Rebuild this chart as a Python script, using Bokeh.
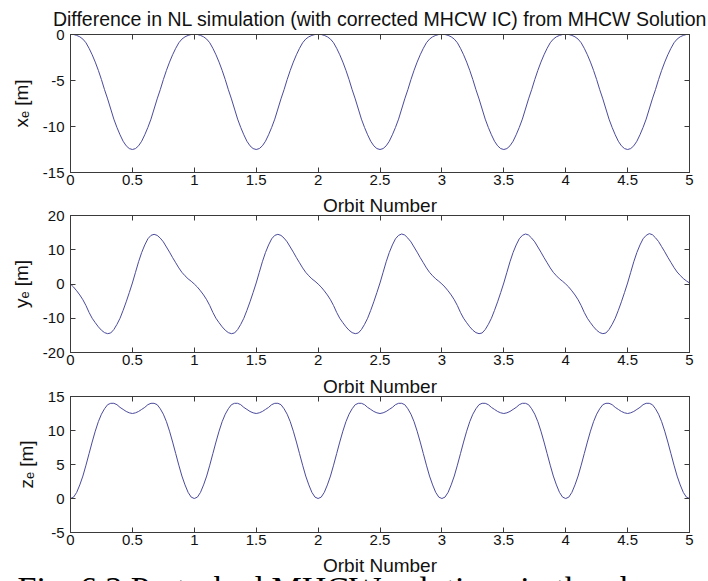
from bokeh.plotting import figure
from bokeh.models import Range1d, FixedTicker, LinearAxis, Label
from bokeh.layouts import column
from bokeh.embed import file_html
from bokeh.resources import INLINE

# ---------------- data ----------------
# one sample every 0.025 orbit
orbit = [
    0.000, 0.025, 0.050, 0.075, 0.100, 0.125, 0.150, 0.175, 0.200, 0.225,
    0.250, 0.275, 0.300, 0.325, 0.350, 0.375, 0.400, 0.425, 0.450, 0.475,
    0.500, 0.525, 0.550, 0.575, 0.600, 0.625, 0.650, 0.675, 0.700, 0.725,
    0.750, 0.775, 0.800, 0.825, 0.850, 0.875, 0.900, 0.925, 0.950, 0.975,
    1.000, 1.025, 1.050, 1.075, 1.100, 1.125, 1.150, 1.175, 1.200, 1.225,
    1.250, 1.275, 1.300, 1.325, 1.350, 1.375, 1.400, 1.425, 1.450, 1.475,
    1.500, 1.525, 1.550, 1.575, 1.600, 1.625, 1.650, 1.675, 1.700, 1.725,
    1.750, 1.775, 1.800, 1.825, 1.850, 1.875, 1.900, 1.925, 1.950, 1.975,
    2.000, 2.025, 2.050, 2.075, 2.100, 2.125, 2.150, 2.175, 2.200, 2.225,
    2.250, 2.275, 2.300, 2.325, 2.350, 2.375, 2.400, 2.425, 2.450, 2.475,
    2.500, 2.525, 2.550, 2.575, 2.600, 2.625, 2.650, 2.675, 2.700, 2.725,
    2.750, 2.775, 2.800, 2.825, 2.850, 2.875, 2.900, 2.925, 2.950, 2.975,
    3.000, 3.025, 3.050, 3.075, 3.100, 3.125, 3.150, 3.175, 3.200, 3.225,
    3.250, 3.275, 3.300, 3.325, 3.350, 3.375, 3.400, 3.425, 3.450, 3.475,
    3.500, 3.525, 3.550, 3.575, 3.600, 3.625, 3.650, 3.675, 3.700, 3.725,
    3.750, 3.775, 3.800, 3.825, 3.850, 3.875, 3.900, 3.925, 3.950, 3.975,
    4.000, 4.025, 4.050, 4.075, 4.100, 4.125, 4.150, 4.175, 4.200, 4.225,
    4.250, 4.275, 4.300, 4.325, 4.350, 4.375, 4.400, 4.425, 4.450, 4.475,
    4.500, 4.525, 4.550, 4.575, 4.600, 4.625, 4.650, 4.675, 4.700, 4.725,
    4.750, 4.775, 4.800, 4.825, 4.850, 4.875, 4.900, 4.925, 4.950, 4.975,
    5.000,
]

x_e = [
    0.0, 0.0, -0.1, -0.25, -0.5, -0.9, -1.5, -2.2, -3.0, -3.9,
    -4.9, -6.0, -7.0, -8.1, -9.2, -10.1, -10.9, -11.6, -12.1, -12.4,
    -12.5, -12.4, -12.1, -11.6, -10.9, -10.1, -9.2, -8.1, -7.0, -6.0,
    -4.9, -3.9, -3.0, -2.2, -1.5, -0.9, -0.5, -0.25, -0.1, 0.0,
    0.0, 0.0, -0.1, -0.25, -0.5, -0.9, -1.5, -2.2, -3.0, -3.9,
    -4.9, -6.0, -7.0, -8.1, -9.2, -10.1, -10.9, -11.6, -12.1, -12.4,
    -12.5, -12.4, -12.1, -11.6, -10.9, -10.1, -9.2, -8.1, -7.0, -6.0,
    -4.9, -3.9, -3.0, -2.2, -1.5, -0.9, -0.5, -0.25, -0.1, 0.0,
    0.0, 0.0, -0.1, -0.25, -0.5, -0.9, -1.5, -2.2, -3.0, -3.9,
    -4.9, -6.0, -7.0, -8.1, -9.2, -10.1, -10.9, -11.6, -12.1, -12.4,
    -12.5, -12.4, -12.1, -11.6, -10.9, -10.1, -9.2, -8.1, -7.0, -6.0,
    -4.9, -3.9, -3.0, -2.2, -1.5, -0.9, -0.5, -0.25, -0.1, 0.0,
    0.0, 0.0, -0.1, -0.25, -0.5, -0.9, -1.5, -2.2, -3.0, -3.9,
    -4.9, -6.0, -7.0, -8.1, -9.2, -10.1, -10.9, -11.6, -12.1, -12.4,
    -12.5, -12.4, -12.1, -11.6, -10.9, -10.1, -9.2, -8.1, -7.0, -6.0,
    -4.9, -3.9, -3.0, -2.2, -1.5, -0.9, -0.5, -0.25, -0.1, 0.0,
    0.0, 0.0, -0.1, -0.25, -0.5, -0.9, -1.5, -2.2, -3.0, -3.9,
    -4.9, -6.0, -7.0, -8.1, -9.2, -10.1, -10.9, -11.6, -12.1, -12.4,
    -12.5, -12.4, -12.1, -11.6, -10.9, -10.1, -9.2, -8.1, -7.0, -6.0,
    -4.9, -3.9, -3.0, -2.2, -1.5, -0.9, -0.5, -0.25, -0.1, 0.0,
    0.0,
]

y_e = [
    0.0, -0.9, -2.0, -3.2, -4.6, -6.3, -8.3, -10.0, -11.3, -12.5,
    -13.5, -14.2, -14.5, -14.3, -13.3, -11.8, -10.0, -7.7, -5.2, -2.5,
    0.3, 3.4, 6.5, 9.2, 11.4, 13.2, 14.2, 14.5, 14.2, 13.4,
    12.3, 10.8, 9.3, 7.7, 6.2, 4.7, 3.4, 2.4, 1.5, 0.8,
    0.0, -0.9, -2.0, -3.2, -4.6, -6.3, -8.3, -10.0, -11.3, -12.5,
    -13.5, -14.2, -14.5, -14.3, -13.3, -11.8, -10.0, -7.7, -5.2, -2.5,
    0.3, 3.4, 6.5, 9.2, 11.4, 13.2, 14.2, 14.5, 14.2, 13.4,
    12.3, 10.8, 9.3, 7.7, 6.2, 4.7, 3.4, 2.4, 1.5, 0.8,
    0.0, -0.9, -2.0, -3.2, -4.6, -6.3, -8.3, -10.0, -11.3, -12.5,
    -13.5, -14.2, -14.5, -14.3, -13.3, -11.8, -10.0, -7.7, -5.2, -2.5,
    0.3, 3.4, 6.5, 9.2, 11.4, 13.2, 14.2, 14.6, 14.3, 13.4,
    12.3, 10.8, 9.3, 7.7, 6.2, 4.7, 3.4, 2.4, 1.5, 0.8,
    0.0, -0.9, -2.0, -3.2, -4.6, -6.3, -8.3, -10.0, -11.3, -12.5,
    -13.5, -14.2, -14.5, -14.3, -13.3, -11.8, -10.0, -7.7, -5.2, -2.5,
    0.3, 3.4, 6.5, 9.2, 11.4, 13.2, 14.2, 14.6, 14.3, 13.4,
    12.3, 10.8, 9.3, 7.7, 6.2, 4.7, 3.4, 2.4, 1.5, 0.8,
    0.0, -0.9, -2.0, -3.2, -4.6, -6.3, -8.3, -10.0, -11.3, -12.5,
    -13.5, -14.2, -14.5, -14.3, -13.3, -11.8, -10.0, -7.7, -5.2, -2.5,
    0.3, 3.4, 6.5, 9.2, 11.4, 13.2, 14.2, 14.7, 14.4, 13.5,
    12.4, 10.9, 9.4, 7.8, 6.3, 4.8, 3.5, 2.5, 1.6, 0.9,
    0.3,
]

z_e = [
    0.0, 0.2, 0.9, 2.0, 3.3, 4.9, 6.6, 8.3, 9.9, 11.3,
    12.4, 13.2, 13.8, 14.0, 14.0, 13.8, 13.4, 13.1, 12.8, 12.6,
    12.5, 12.6, 12.8, 13.1, 13.4, 13.8, 14.0, 14.0, 13.8, 13.2,
    12.4, 11.3, 9.9, 8.3, 6.6, 4.9, 3.3, 2.0, 0.9, 0.2,
    0.0, 0.2, 0.9, 2.0, 3.3, 4.9, 6.6, 8.3, 9.9, 11.3,
    12.4, 13.2, 13.8, 14.0, 14.0, 13.8, 13.4, 13.1, 12.8, 12.6,
    12.5, 12.6, 12.8, 13.1, 13.4, 13.8, 14.0, 14.0, 13.8, 13.2,
    12.4, 11.3, 9.9, 8.3, 6.6, 4.9, 3.3, 2.0, 0.9, 0.2,
    0.0, 0.2, 0.9, 2.0, 3.3, 4.9, 6.6, 8.3, 9.9, 11.3,
    12.4, 13.2, 13.8, 14.0, 14.0, 13.8, 13.4, 13.1, 12.8, 12.6,
    12.5, 12.6, 12.8, 13.1, 13.4, 13.8, 14.0, 14.0, 13.8, 13.2,
    12.4, 11.3, 9.9, 8.3, 6.6, 4.9, 3.3, 2.0, 0.9, 0.2,
    0.0, 0.2, 0.9, 2.0, 3.3, 4.9, 6.6, 8.3, 9.9, 11.3,
    12.4, 13.2, 13.8, 14.0, 14.0, 13.8, 13.4, 13.1, 12.8, 12.6,
    12.5, 12.6, 12.8, 13.1, 13.4, 13.8, 14.0, 14.0, 13.8, 13.2,
    12.4, 11.3, 9.9, 8.3, 6.6, 4.9, 3.3, 2.0, 0.9, 0.2,
    0.0, 0.2, 0.9, 2.0, 3.3, 4.9, 6.6, 8.3, 9.9, 11.3,
    12.4, 13.2, 13.8, 14.0, 14.0, 13.8, 13.4, 13.1, 12.8, 12.6,
    12.5, 12.6, 12.8, 13.1, 13.4, 13.8, 14.0, 14.0, 13.8, 13.2,
    12.4, 11.3, 9.9, 8.3, 6.6, 4.9, 3.3, 2.0, 0.9, 0.2,
    0.0,
]

x_ticks = [0, 0.5, 1, 1.5, 2, 2.5, 3, 3.5, 4, 4.5, 5]
x_tick_labels = ["0", "0.5", "1", "1.5", "2", "2.5", "3", "3.5", "4", "4.5", "5"]

xe_ticks = [-15, -10, -5, 0]
xe_tick_labels = ["-15", "-10", "-5", "0"]
ye_ticks = [-20, -10, 0, 10, 20]
ye_tick_labels = ["-20", "-10", "0", "10", "20"]
ze_ticks = [-5, 0, 5, 10, 15]
ze_tick_labels = ["-5", "0", "5", "10", "15"]

title_text = "Difference in NL simulation (with corrected MHCW IC) from MHCW Solution"
x_label = "Orbit Number"
caption = "Fig. 6.3 Perturbed MHCW solutions in the absence"

# ---------------- styling ----------------
SANS = "Liberation Sans"
AXIS_COLOR = "#3a3a3a"
TEXT_COLOR = "#111111"
LINE_COLOR = "#4a4a9c"


def style_axis(ax, ticks, labels, show_labels=True):
    ax.ticker = FixedTicker(ticks=ticks)
    ax.major_label_overrides = {t: l for t, l in zip(ticks, labels)}
    ax.axis_line_color = AXIS_COLOR
    ax.major_tick_line_color = AXIS_COLOR
    ax.major_tick_in = 5
    ax.major_tick_out = 0
    ax.minor_tick_line_color = None
    ax.major_label_text_font = SANS
    ax.major_label_text_color = TEXT_COLOR
    if show_labels:
        ax.major_label_text_font_size = "15px"
    else:
        ax.major_label_text_font_size = "0px"
        ax.major_label_standoff = 0


def make_panel(yvals, ylabel, yrange, yticks, ylabels, height, top, bottom,
               title, title_size, title_standoff):
    p = figure(width=708, height=height,
               x_range=Range1d(0, 5), y_range=Range1d(*yrange),
               output_backend="svg", toolbar_location=None,
               min_border_left=70, min_border_right=19,
               min_border_top=top, min_border_bottom=bottom)
    p.grid.visible = False
    p.outline_line_color = AXIS_COLOR
    p.background_fill_color = "white"
    p.border_fill_color = "white"

    style_axis(p.xaxis[0], x_ticks, x_tick_labels)
    p.xaxis[0].major_label_standoff = 2

    style_axis(p.yaxis[0], yticks, ylabels)
    p.yaxis[0].major_label_standoff = 6
    p.yaxis[0].axis_label = ylabel
    p.yaxis[0].axis_label_text_font = SANS
    p.yaxis[0].axis_label_text_font_size = "19px"
    p.yaxis[0].axis_label_text_font_style = "normal"
    p.yaxis[0].axis_label_text_color = TEXT_COLOR
    p.yaxis[0].axis_label_standoff = 8

    top_axis = LinearAxis()
    style_axis(top_axis, x_ticks, x_tick_labels, show_labels=False)
    p.add_layout(top_axis, "above")
    right_axis = LinearAxis()
    style_axis(right_axis, yticks, ylabels, show_labels=False)
    p.add_layout(right_axis, "right")

    # the title slot carries either the figure title or the x-label of the panel above
    p.title.text = title
    p.title.align = "center"
    p.title.text_font = SANS
    p.title.text_font_size = title_size
    p.title.text_font_style = "normal"
    p.title.text_color = TEXT_COLOR
    if title_standoff is not None:
        p.title.standoff = title_standoff

    p.line(orbit, yvals, line_color=LINE_COLOR, line_width=1.0)
    return p


p1 = make_panel(x_e, "x\u2091 [m]", (-15, 0), xe_ticks, xe_tick_labels,
                height=192, top=34, bottom=20, title=title_text,
                title_size="19.5px", title_standoff=None)
p2 = make_panel(y_e, "y\u2091 [m]", (-20, 20), ye_ticks, ye_tick_labels,
                height=181, top=22, bottom=21, title=x_label,
                title_size="19px", title_standoff=0)
p3 = make_panel(z_e, "z\u2091 [m]", (-5, 15), ze_ticks, ze_tick_labels,
                height=179, top=22, bottom=20, title=x_label,
                title_size="19px", title_standoff=0)

# bottom strip: x-label of the last panel and the (cut-off) figure caption
STRIP_H = 29
strip = figure(width=708, height=STRIP_H, x_range=Range1d(0, 708), y_range=Range1d(0, STRIP_H),
               x_axis_type=None, y_axis_type=None, output_backend="svg",
               toolbar_location=None, min_border=0, min_border_left=0,
               min_border_right=0, min_border_top=0, min_border_bottom=0)
strip.grid.visible = False
strip.outline_line_color = None
strip.background_fill_color = "white"
strip.border_fill_color = "white"

# keep the strip's frame at the full page width (not aligned with the panels' frames)
if "frame_align" in strip.properties():
    strip.frame_align = False
    FRAME_LEFT = 0
else:
    FRAME_LEFT = 70

strip.add_layout(Label(x=379.5 - FRAME_LEFT, y=16, x_units="screen", y_units="screen",
                       text=x_label, text_font=SANS, text_font_size="19px",
                       text_color=TEXT_COLOR, text_align="center",
                       text_baseline="middle"))
strip.add_layout(Label(x=17 - FRAME_LEFT, y=12, x_units="screen", y_units="screen",
                       text=caption, text_font="Liberation Serif",
                       text_font_size="34px", text_color="#000000",
                       text_baseline="top"))

layout = column(p1, p2, p3, strip, spacing=0)

with open("out.html", "w") as f:
    f.write(file_html(layout, INLINE))
